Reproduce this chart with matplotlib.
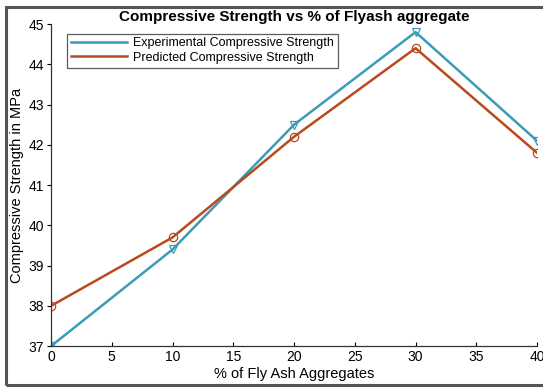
import matplotlib.pyplot as plt
from matplotlib.patches import Rectangle

# Data
fly_ash = [0, 10, 20, 30, 40]
experimental = [37.0, 39.4, 42.5, 44.8, 42.1]
predicted = [38.0, 39.7, 42.2, 44.4, 41.8]

plt.rcParams['font.family'] = ['Liberation Sans', 'DejaVu Sans']

fig = plt.figure(figsize=(5.43, 3.88), dpi=100)
ax = fig.add_axes([0.094, 0.108, 0.895, 0.83])

ax.plot(fly_ash, experimental, color='#3b9cb8', lw=1.8, marker='v',
        ms=6, mfc='none', mec='#3b9cb8', mew=0.9,
        label='Experimental Compressive Strength')
ax.plot(fly_ash, predicted, color='#b84a1e', lw=1.8, marker='o',
        ms=6, mfc='none', mec='#b84a1e', mew=0.9,
        label='Predicted Compressive Strength')

ax.set_xlim(0, 40)
ax.set_ylim(37, 45)
ax.set_xticks(range(0, 41, 5))
ax.set_yticks(range(37, 46))

ax.spines['top'].set_visible(False)
ax.spines['right'].set_visible(False)
for s in ['left', 'bottom']:
    ax.spines[s].set_color('#333333')
    ax.spines[s].set_linewidth(0.9)
ax.tick_params(axis='x', direction='in', length=3, labelsize=10, pad=3)
ax.tick_params(axis='y', direction='out', length=3, labelsize=10, pad=2)

ax.set_title('Compressive Strength vs % of Flyash aggregate',
             fontsize=11, fontweight='bold', pad=1)
ax.set_xlabel('% of Fly Ash Aggregates', fontsize=10.5, labelpad=2)
ax.set_ylabel('Compressive Strength in MPa', fontsize=10.5, labelpad=3)

leg = ax.legend(loc='upper left', bbox_to_anchor=(0.02, 0.99), fontsize=9,
                frameon=True, fancybox=False, handlelength=4.5,
                borderpad=0.3, labelspacing=0.2, handletextpad=0.5)
leg.get_frame().set_edgecolor('#333333')
leg.get_frame().set_linewidth(0.9)
for h in leg.legend_handles:
    h.set_marker('')

# outer frame of the picture
fig.patches.append(Rectangle((0.011, 0.008), 1.0, 0.973, transform=fig.transFigure,
                             fill=False, edgecolor='#555555', lw=2.2, clip_on=False))

plt.savefig('out.png', dpi=100)
